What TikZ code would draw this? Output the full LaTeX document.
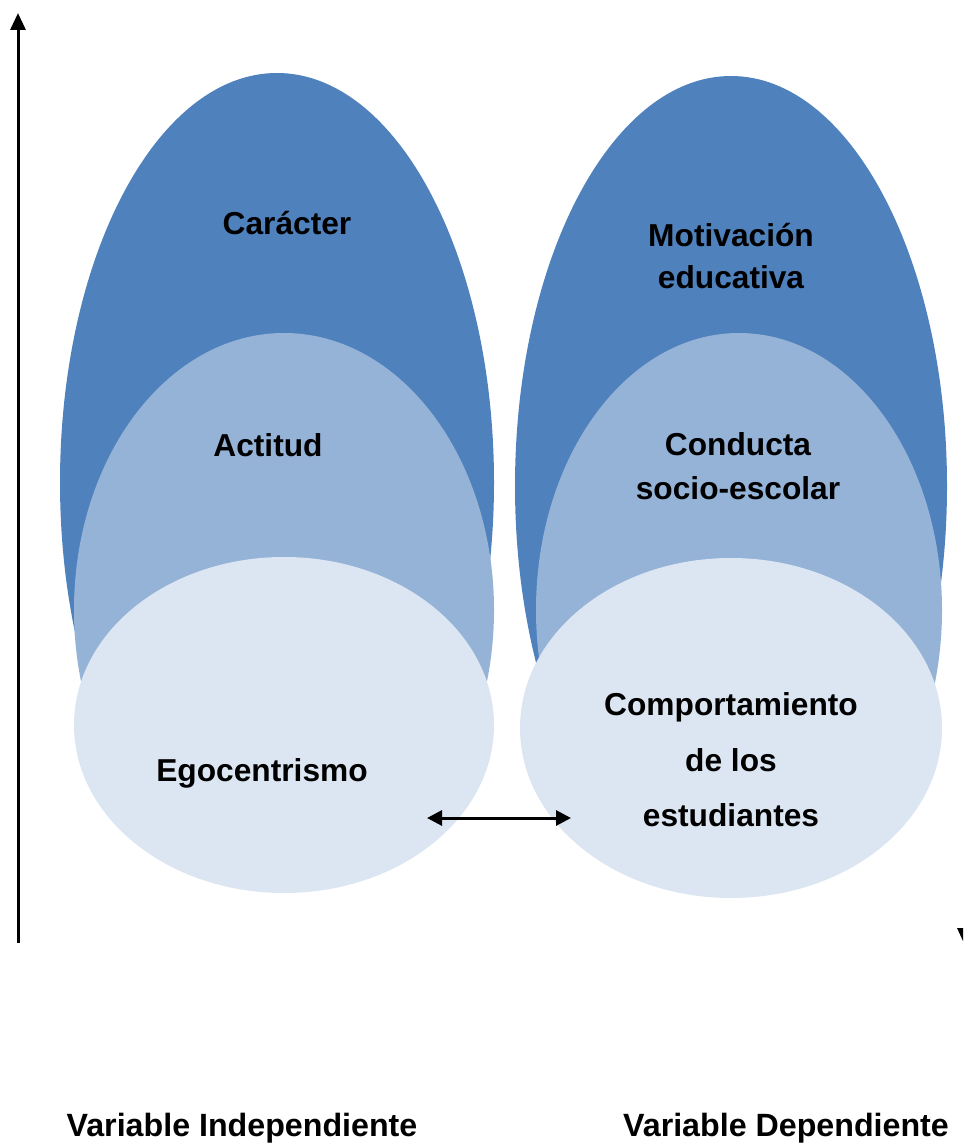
\documentclass[tikz,border=0pt]{standalone}
\usepackage{fontspec}
\setmainfont{Liberation Sans}
\usetikzlibrary{arrows.meta}
\definecolor{dark}{HTML}{4F81BD}
\definecolor{mid}{HTML}{95B3D7}
\definecolor{light}{HTML}{DCE6F2}
\tikzset{
  lbl/.style={font=\fontsize{31.7}{40}\selectfont\bfseries, text=black, inner sep=0pt, align=center},
  bot/.style={font=\fontsize{32.2}{40}\selectfont\bfseries, text=black, inner sep=0pt},
  axis/.style={line width=3pt, -{Triangle[length=17pt,width=15pt]}},
  dbl/.style={line width=3pt, {Triangle[length=15pt,width=15pt]}-{Triangle[length=15pt,width=15pt]}}
}
\begin{document}
\begin{tikzpicture}[x=1pt,y=-1pt]
\useasboundingbox (0,0) rectangle (963,1147);
% dark ellipses
\fill[dark] (277,482.5) ellipse [x radius=217, y radius=409.5];
\fill[dark] (731,486) ellipse [x radius=216, y radius=410];
% mid ellipses
\fill[mid] (284,610) ellipse [x radius=210, y radius=277];
\fill[mid] (739,610) ellipse [x radius=203, y radius=277];
% light ellipses
\fill[light] (284,725) ellipse [x radius=210, y radius=168];
\fill[light] (731,728) ellipse [x radius=211, y radius=170];
% labels
\node[lbl] (car) at (287,223) {Carácter};
\node[lbl] (mot1) at (731,235) {Motivación};
\node[lbl] (mot2) at (731,277) {educativa};
\node[lbl] (act) at (268,445) {Actitud};
\node[lbl] (con1) at (738,444) {Conducta};
\node[lbl] (con2) at (738,488) {socio-escolar};
\node[lbl] (ego) at (262,773) {Egocentrismo};
\node[lbl] (com1) at (731,707) {Comportamiento};
\node[lbl] (com2) at (731,760) {de los};
\node[lbl] (com3) at (731,815) {estudiantes};
\node[bot] (vi) at (242,1128) {Variable Independiente};
\node[bot] (vd) at (786,1128) {Variable Dependiente};
% axis
\coordinate (axB) at (18,943);
\coordinate (axT) at (18,13);
\draw[axis] (axB) -- (axT);
% double arrow
\coordinate (aL) at (427,818);
\coordinate (aR) at (571,818);
\draw[dbl] (aL) -- (aR);
% cut-off arrowhead fragment at right edge
\fill[black] (957,928) -- (963,928) -- (963,941) -- cycle;
\end{tikzpicture}
\end{document}
